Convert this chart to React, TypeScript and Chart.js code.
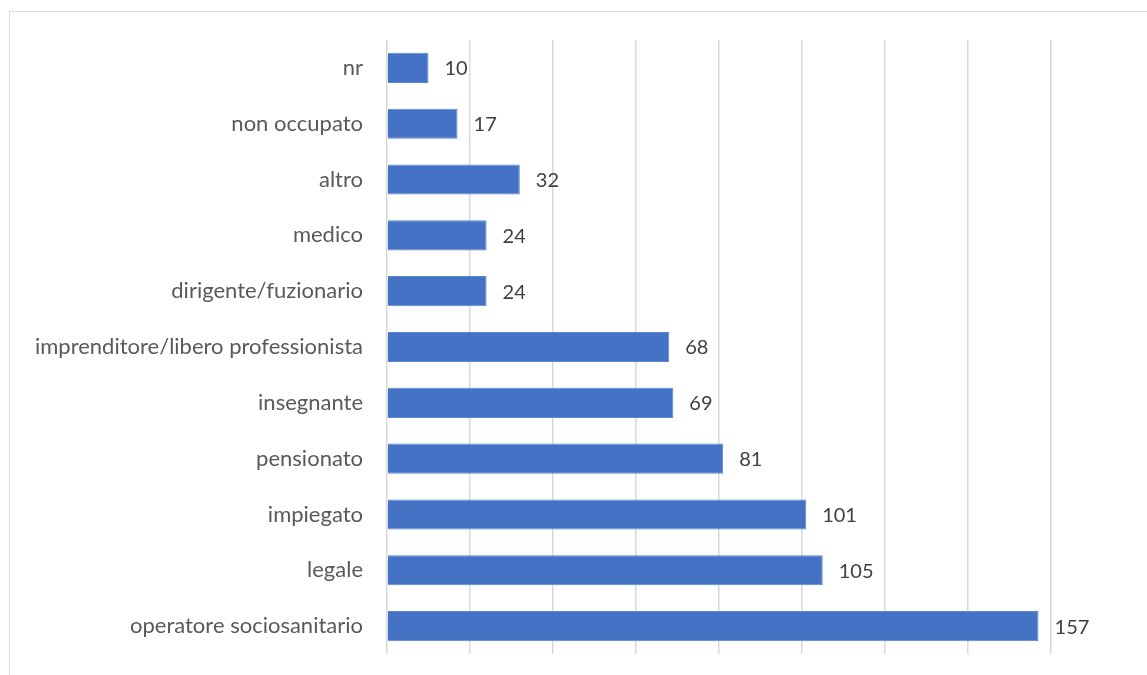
import React, { useEffect, useRef } from "react";
import { Chart, registerables } from "chart.js";

Chart.register(...registerables);

const categories = [
  "nr",
  "non occupato",
  "altro",
  "medico",
  "dirigente/fuzionario",
  "imprenditore/libero professionista",
  "insegnante",
  "pensionato",
  "impiegato",
  "legale",
  "operatore sociosanitario",
];
const values = [10, 17, 32, 24, 24, 68, 69, 81, 101, 105, 157];
const xMin = 0;
const xMax = 160;
const xStep = 20;

const FONT = "Lato, 'Open Sans', sans-serif";

const framePlugin = {
  id: "frame",
  beforeDraw(chart: any) {
    const ctx = chart.ctx;
    ctx.save();
    ctx.strokeStyle = "#d9d9d9";
    ctx.lineWidth = 1;
    ctx.strokeRect(9.5, 11.5, 1400, 900);
    ctx.restore();
  },
};

const labelPlugin = {
  id: "barLabels",
  afterDatasetsDraw(chart: any) {
    const ctx = chart.ctx;
    const meta = chart.getDatasetMeta(0);
    ctx.save();
    ctx.fillStyle = "#404040";
    ctx.font = `20px ${FONT}`;
    ctx.textAlign = "left";
    ctx.textBaseline = "middle";
    meta.data.forEach((bar: any, i: number) => {
      ctx.fillText(String(values[i]), bar.x + 16, bar.y + 1);
    });
    ctx.restore();
  },
};

export default function App() {
  const ref = useRef<HTMLCanvasElement | null>(null);
  useEffect(() => {
    document.body.style.margin = "0";
    const chart = new Chart(ref.current!, {
      type: "bar",
      data: {
        labels: categories,
        datasets: [
          {
            data: values,
            backgroundColor: "#4472C4",
            borderColor: "#5a86d0",
            borderWidth: 1,
            barPercentage: 0.54,
            categoryPercentage: 1,
          },
        ],
      },
      options: {
        indexAxis: "y",
        animation: false,
        responsive: false,
        maintainAspectRatio: false,
        layout: { padding: { top: 40, right: 96, bottom: 21, left: 0 } },
        plugins: { legend: { display: false }, tooltip: { enabled: false } },
        scales: {
          x: {
            min: xMin,
            max: xMax,
            ticks: { display: false, stepSize: xStep },
            grid: { color: "#d9d9d9", lineWidth: 1.5, drawTicks: false },
            border: { display: false },
            afterFit(scale: any) {
              scale.height = 0;
              scale.paddingBottom = 0;
              scale.paddingTop = 0;
            },
          },
          y: {
            ticks: {
              color: "#595959",
              font: { family: FONT, size: 22 },
              padding: 24,
            },
            grid: { display: false, drawTicks: false },
            border: { display: false },
            afterFit(scale: any) {
              scale.width = 387;
              scale.paddingTop = 0;
              scale.paddingBottom = 0;
            },
          },
        },
      },
      plugins: [framePlugin, labelPlugin],
    });
    return () => chart.destroy();
  }, []);
  return (
    <div style={{ position: "absolute", left: 0, top: 0, width: 1147, height: 675 }}>
      <canvas ref={ref} width={1147} height={675} />
    </div>
  );
}
